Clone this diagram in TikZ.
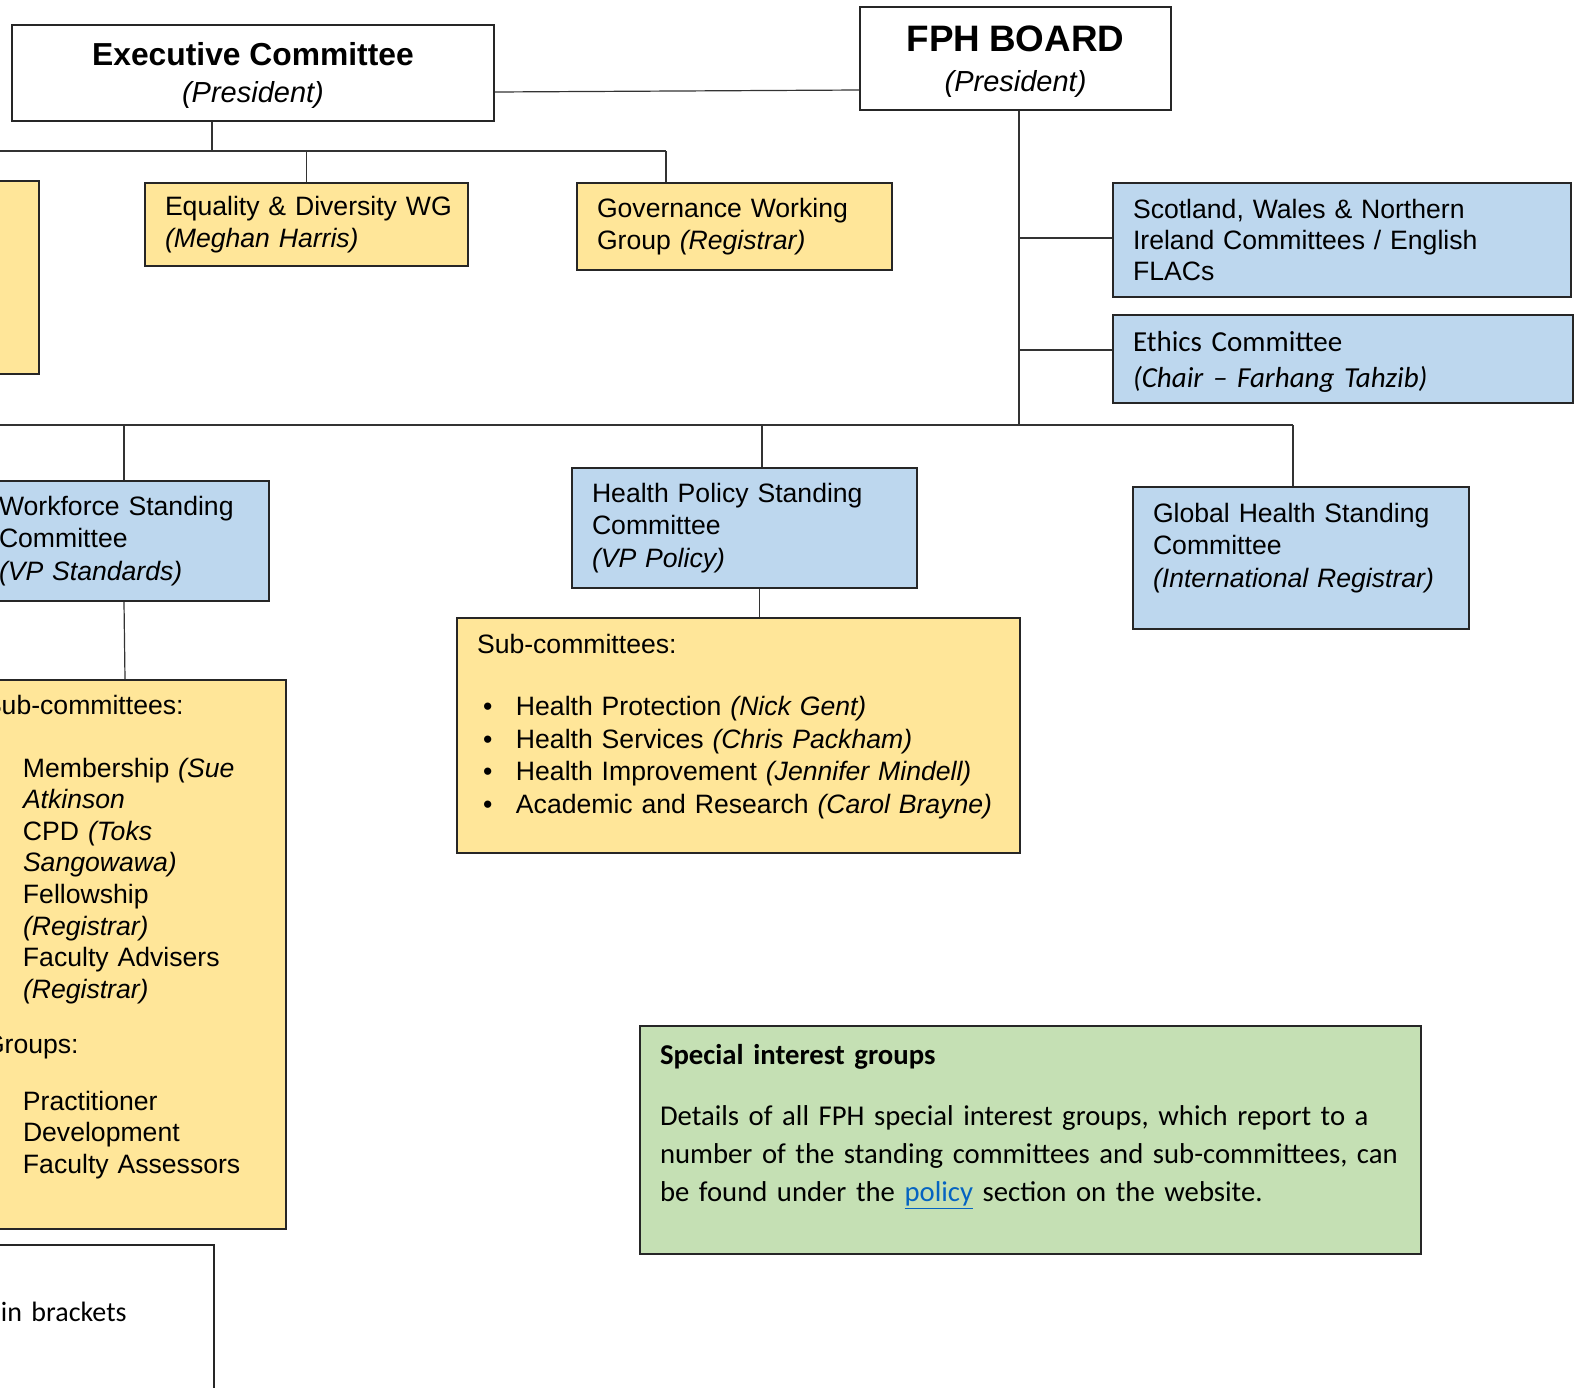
\documentclass[tikz,border=0pt]{standalone}
\usepackage{fontspec}
\setmainfont{Liberation Sans}
\newfontfamily\calib{Carlito}
\usetikzlibrary{positioning, calc}

\definecolor{subyellow}{HTML}{FFE699}
\definecolor{comblue}{HTML}{BDD7EE}
\definecolor{sigreen}{HTML}{C5E0B4}
\definecolor{linkblue}{HTML}{0563C1}

\newcommand{\bodyfont}{\fontsize{13.3}{16.3}\selectfont}
\newcommand{\notefont}{\calib\fontsize{14.35}{19}\selectfont}
\newcommand{\orgitem}[1]{\hspace*{3pt}\makebox[16.5pt][l]{\textbullet}#1}
\newcommand{\orgcont}[1]{\hspace*{19.5pt}#1}
\newcommand{\liftup}[1]{\par\kern#1\relax}

\begin{document}
\begin{tikzpicture}[
    x=0.5pt, y=-0.5pt,
    orgbox/.style={rectangle, draw=black!85, line width=1pt, anchor=north west, inner xsep=10pt, inner ysep=0pt, align=left, font=\bodyfont},
    headbox/.style={orgbox, fill=white, align=center},
    ybox/.style={orgbox, fill=subyellow},
    bbox/.style={orgbox, fill=comblue},
    gbox/.style={orgbox, fill=sigreen, font=\notefont},
    link/.style={draw=black!80, line width=0.6pt},
]
\useasboundingbox (0,0) rectangle (1582,1387);
\fill[white] (0,0) rectangle (1582,1387);
\clip (0,0) rectangle (1582,1387);

% board and executive
\node[headbox, text width=221pt, minimum height=48pt] (exec) at (11,24)
  {{\fontsize{15.9}{19}\selectfont\bfseries Executive Committee}\\[2.2pt]
   {\fontsize{14.5}{17}\selectfont\itshape (President)}\liftup{-2.5pt}};
\node[headbox, text width=135.5pt, minimum height=51.5pt] (fph) at (859,6)
  {{\fontsize{18.4}{22}\selectfont\bfseries FPH BOARD}\\[3.7pt]
   {\fontsize{14.5}{17}\selectfont\itshape (President)}\liftup{-3.5pt}};

% working groups
\node[ybox, text width=29pt, minimum height=96.5pt] (wgbox) at (-60,180) {};
\node[ybox, text width=141.5pt, minimum height=41.5pt] (eq) at (144,182)
  {\mbox{Equality \& Diversity WG}\\\textit{(Meghan Harris)}};
\node[ybox, text width=137.5pt, minimum height=43.5pt] (gov) at (576,182)
  {Governance Working\\Group \textit{(Registrar)}};

% board committees
\node[bbox, text width=209pt, minimum height=57pt, font=\fontsize{13.3}{15.5}\selectfont] (scot) at (1112,182)
  {Scotland, Wales \& Northern\\Ireland Committees / English\\FLACs};
\node[bbox, text width=210pt, minimum height=44pt, font=\calib\fontsize{14.5}{18}\selectfont] (eth) at (1112,314)
  {Ethics Committee\\\textit{(Chair \textendash{} Farhang Tahzib)}\liftup{-3pt}};

% standing committees
\node[bbox, text width=125pt, minimum height=60pt] (wf) at (-22,480)
  {Workforce Standing\\Committee\\\textit{(VP Standards)}};
\node[bbox, text width=152.5pt, minimum height=60pt] (hp) at (571,467)
  {Health Policy Standing\\Committee\\\textit{(VP Policy)}};
\node[bbox, text width=148pt, minimum height=71pt] (gl) at (1132,486)
  {Global Health Standing\\Committee\\\textit{(International Registrar)}\liftup{10pt}};

% sub-committees
\node[ybox, text width=141pt, minimum height=274.5pt, font=\fontsize{13.3}{15.8}\selectfont] (wfsub) at (-37,679)
  {Sub-committees:\\[15.7pt]
   \orgitem{Membership \textit{(Sue}}\\
   \orgcont{\textit{Atkinson}}\\
   \orgitem{CPD \textit{(Toks}}\\
   \orgcont{\textit{Sangowawa)}}\\
   \orgitem{Fellowship}\\
   \orgcont{\textit{(Registrar)}}\\
   \orgitem{Faculty Advisers}\\
   \orgcont{\textit{(Registrar)}}\\[11.7pt]
   Groups:\\[12.7pt]
   \orgitem{Practitioner}\\
   \orgcont{Development}\\
   \orgitem{Faculty Assessors}\liftup{17.5pt}};
\node[ybox, text width=261.5pt, minimum height=117.5pt] (hpsub) at (456,617)
  {Sub-committees:\\[14.7pt]
   \orgitem{Health Protection \textit{(Nick Gent)}}\\
   \orgitem{Health Services \textit{(Chris Packham)}}\\
   \orgitem{Health Improvement \textit{(Jennifer Mindell)}}\\
   \orgitem{Academic and Research \textit{(Carol Brayne)}}\liftup{9pt}};

% notes
\node[gbox, text width=370.5pt, minimum height=114pt] (sig) at (639,1025)
  {\textbf{Special interest groups}\\[11.5pt]
   \mbox{Details of all FPH special interest groups, which report to a}\\
   \mbox{number of the standing committees and sub-committees, can}\\
   \mbox{be found under the \textcolor{linkblue}{\underline{policy}} section on the website.}\liftup{13pt}};
\node[orgbox, fill=white, text width=96.5pt, minimum height=98pt, font=\calib\fontsize{14}{18}\selectfont] (key) at (-20,1244)
  {in brackets\liftup{31pt}};

% connectors
\coordinate (execbus) at (212,151);
\coordinate (wgleft) at (-20,151);
\coordinate (wgright) at (666,151);
\coordinate (boardbus) at (1019,425);
\coordinate (scleft) at (-20,425);
\coordinate (scright) at (1293,425);
\coordinate (hptap) at (762,425);

\draw[link] ($(exec.east)+(0,19)$) -- ($(fph.west)+(0,31.5)$);
\draw[link] (exec.south -| execbus) -- (execbus);
\draw[link] (wgleft) -- (wgright);
\draw[link] (eq.north) -- (eq.north |- wgright);
\draw[link] (wgright) -- (wgright |- gov.north);
\draw[link] (fph.south -| boardbus) -- (boardbus);
\draw[link] ($(scot.west)+(0,-2)$) -- ($(scot.west -| boardbus)+(0,-2)$);
\draw[link] ($(eth.west)+(0,-9)$) -- ($(eth.west -| boardbus)+(0,-9)$);
\draw[link] (scleft) -- (scright);
\draw[link] (wf.north) -- (wf.north |- scleft);
\draw[link] (hptap) -- (hptap |- hp.north);
\draw[link] (scright) -- (scright |- gl.north);
\draw[link] (wf.south) -- (wfsub.north);
\draw[link] ([xshift=7.5pt]hp.south) -- ([xshift=7.5pt]hp.south |- hpsub.north);
\end{tikzpicture}
\end{document}
